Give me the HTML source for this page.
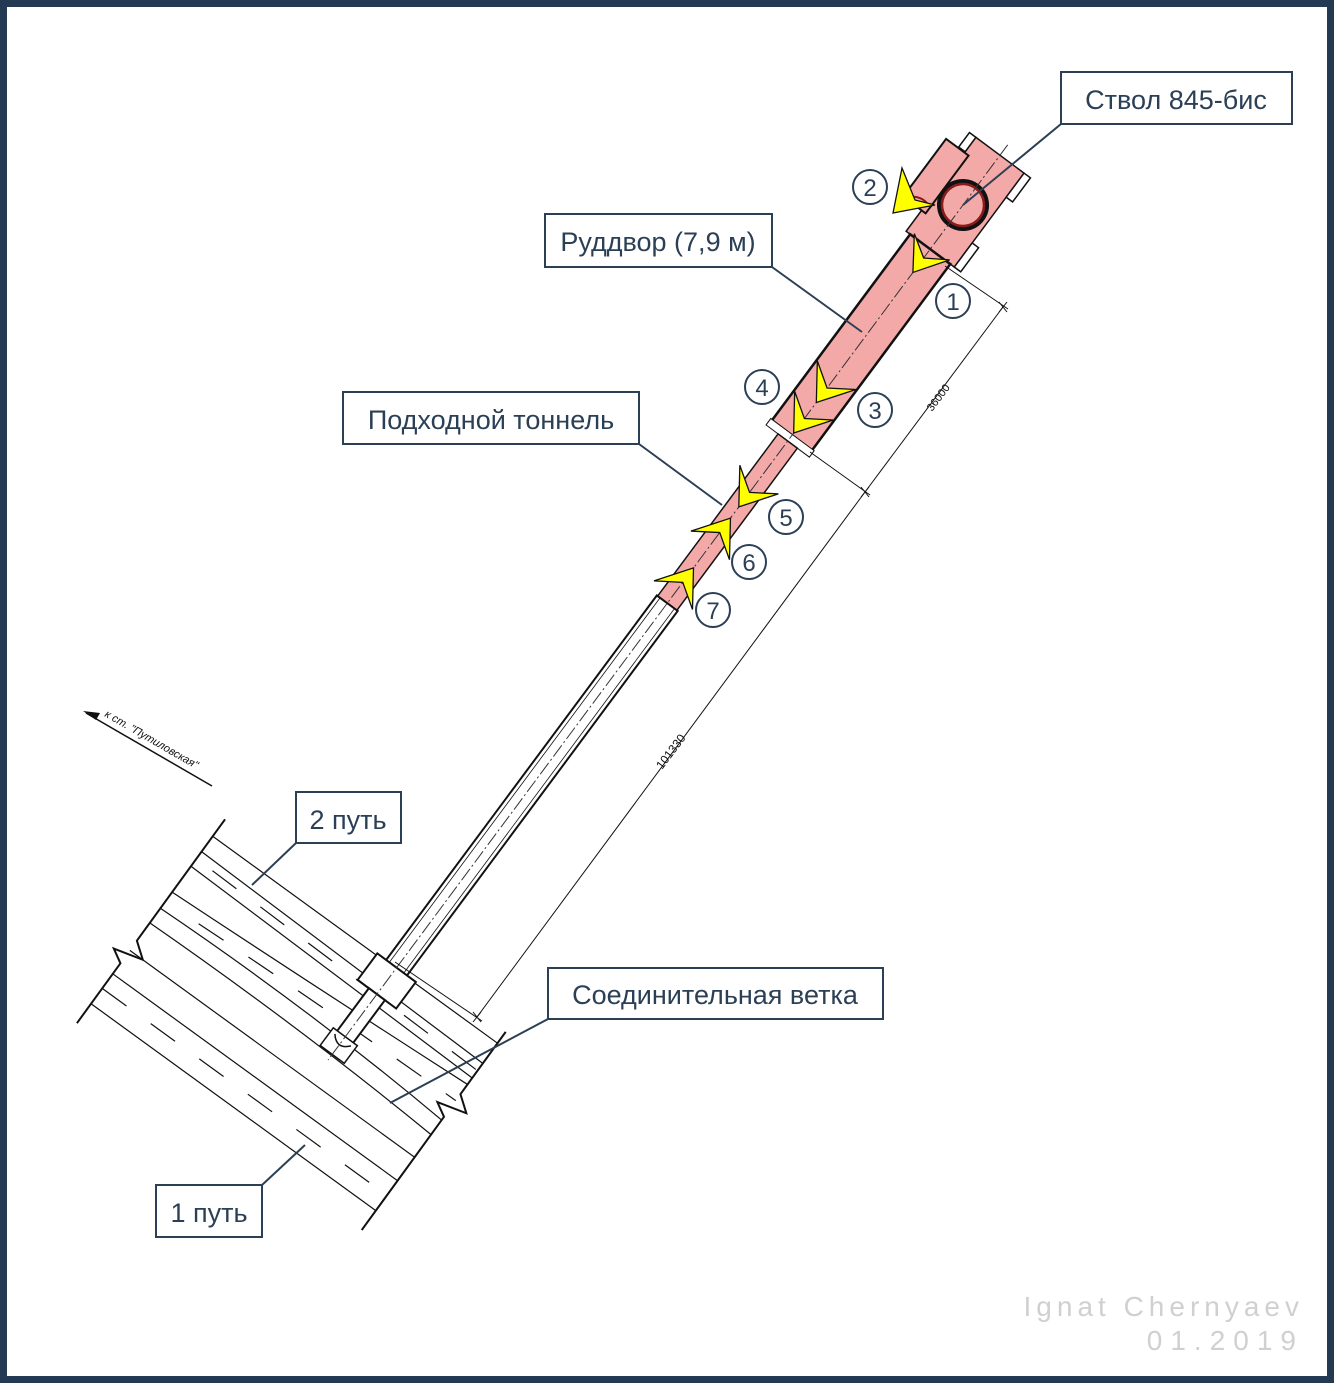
<!DOCTYPE html>
<html><head><meta charset="utf-8"><style>
html,body{margin:0;padding:0;background:#fff}
svg{display:block}
.lbl{font-family:"Liberation Sans",sans-serif;font-size:27px;fill:#2b3f55}
</style></head><body>
<svg width="1334" height="1383" viewBox="0 0 1334 1383" xmlns="http://www.w3.org/2000/svg">
<rect x="3.5" y="3.5" width="1327" height="1376" fill="#fff" stroke="#243a52" stroke-width="7"/>

<!-- tracks -->
<g transform="translate(218,829) rotate(36)" stroke="#111" stroke-width="1.2" fill="none">
 <line x1="0" y1="9" x2="352" y2="9"/>
 <line x1="0" y1="28" x2="352" y2="34"/>
 <line x1="0" y1="46" x2="352" y2="52"/>
 <line x1="20" y1="37" x2="352" y2="43" stroke-dasharray="30,30"/>
 <path d="M0 78 Q180 70 352 60"/>
 <path d="M0 98 Q180 92 352 104"/>
 <path d="M0 116 Q180 112 352 122"/>
 <path d="M40 88 Q180 82 352 80" stroke-dasharray="30,30"/>
 <line x1="0" y1="179" x2="352" y2="179"/>
 <line x1="0" y1="197" x2="352" y2="197" stroke-dasharray="30,30"/>
 <line x1="0" y1="216" x2="352" y2="216"/>
 <line x1="0" y1="150" x2="352" y2="150"/>
 <polyline stroke-width="2" points="0,-12 0,138 16,150 -14,158 0,166 0,240"/>
 <polyline stroke-width="2" points="352,-5 352,72 368,84 338,92 352,100 352,240"/>
</g>

<!-- tunnel group -->
<g transform="translate(963,205) rotate(126.6)">
 <rect x="-62" y="-30" width="117" height="60" fill="#f4a9a9" stroke="#111" stroke-width="1.5"/>
 <rect x="-43" y="25" width="72" height="28" fill="#f4a9a9" stroke="#111" stroke-width="2"/>
 <rect x="-62" y="-38" width="30" height="8" fill="#fff" stroke="#111" stroke-width="1.5"/>
 <rect x="25" y="-38" width="30" height="8" fill="#fff" stroke="#111" stroke-width="1.5"/>
 <rect x="-62" y="30" width="18" height="8" fill="#fff" stroke="#111" stroke-width="1.5"/>
 <path d="M20 30 A18 18 0 0 0 40 52" fill="none" stroke="#8b1a1a" stroke-width="2"/>
 <circle cx="0" cy="0" r="24" fill="#f4a9a9" stroke="#111" stroke-width="4"/>
 <circle cx="0" cy="0" r="21" fill="none" stroke="#8b1a1a" stroke-width="2.5"/>
 <rect x="55" y="-25" width="237" height="50" fill="#f4a9a9" stroke="#111" stroke-width="2.5"/>
 <rect x="286" y="-27" width="8" height="54" fill="#fff" stroke="#111" stroke-width="1"/>
 <rect x="294" y="-12" width="202" height="24" fill="#f4a9a9" stroke="#111" stroke-width="1.5"/>
 <rect x="496" y="-13" width="456" height="26" fill="#fff" stroke="#111" stroke-width="2"/>
 <line x1="496" y1="-9" x2="952" y2="-9" stroke="#111" stroke-width="0.8"/>
 <line x1="496" y1="9" x2="952" y2="9" stroke="#111" stroke-width="0.8"/>
 <rect x="950" y="-24" width="33" height="48" fill="#fff" stroke="#111" stroke-width="2"/>
 <rect x="983" y="-10" width="55" height="20" fill="#fff" stroke="#111" stroke-width="2"/>
 <rect x="1036" y="-15" width="22" height="30" fill="#fff" stroke="#111" stroke-width="1.5"/>
 <path d="M1040 -10 Q1052 0 1040 10" fill="none" stroke="#111" stroke-width="1.5"/>
 <line x1="-75" y1="0" x2="1065" y2="0" stroke="#333" stroke-width="1" stroke-dasharray="14,3,2,3"/>
 <g fill="#ffff00" stroke="#111" stroke-width="1.3">
  <polygon points="84,0 52,-22 66,0 52,22"/>
  <polygon points="246,0 212,-24 228,0 212,24"/>
  <polygon points="284,0 250,-24 266,0 250,24"/>
  <polygon points="376,0 342,-24 358,0 342,24"/>
  <polygon points="390,0 424,-24 408,0 424,24"/>
  <polygon points="452,0 486,-24 470,0 486,24"/>
 </g>
</g>
<polygon points="893,213 935,205 915,200 902,168" fill="#ffff00" stroke="#111" stroke-width="1.3"/>

<!-- dimensions -->
<g stroke="#111" stroke-width="1" fill="none">
 <line x1="945" y1="266" x2="1008" y2="309"/>
 <line x1="810" y1="452" x2="870" y2="495"/>
 <line x1="1003" y1="307" x2="865" y2="492"/>
 <line x1="865" y1="492" x2="477" y2="1017"/>
 <line x1="395" y1="962" x2="482" y2="1021"/>
 <path d="M999 302 l8 10 M1007 302 l-8 10 M861 487 l8 10 M869 487 l-8 10 M473 1012 l8 10 M481 1012 l-8 10"/>
</g>
<text x="0" y="0" transform="translate(932,412) rotate(-53)" font-family="Liberation Sans,sans-serif" font-size="11" fill="#111">36000</text>
<text x="0" y="0" transform="translate(662,770) rotate(-53)" font-family="Liberation Sans,sans-serif" font-size="12" fill="#111">101330</text>

<line x1="86" y1="713" x2="212" y2="786" stroke="#111" stroke-width="1.5"/>
<polygon points="83,711 100,713 96,720" fill="#111"/>
<text transform="translate(104,716) rotate(30)" font-family="Liberation Sans,sans-serif" font-style="italic" font-size="11" fill="#111">к ст.  "Путиловская"</text>

<g stroke="#2b3f55" stroke-width="2">
 <line x1="1061" y1="124" x2="963" y2="205"/>
 <line x1="772" y1="267" x2="862" y2="332"/>
 <line x1="639" y1="444" x2="722" y2="505"/>
 <line x1="296" y1="843" x2="252" y2="885"/>
 <line x1="548" y1="1019" x2="390" y2="1103"/>
 <line x1="262" y1="1185" x2="305" y2="1145"/>
</g>
<g fill="#fff" stroke="#2b3f55" stroke-width="2">
 <rect x="1061" y="72" width="231" height="52"/>
 <rect x="545" y="214" width="227" height="53"/>
 <rect x="343" y="392" width="296" height="52"/>
 <rect x="296" y="792" width="105" height="51"/>
 <rect x="548" y="968" width="335" height="51"/>
 <rect x="156" y="1185" width="106" height="52"/>
</g>
<text class="lbl" x="1176" y="109" text-anchor="middle">Ствол 845-бис</text>
<text class="lbl" x="658" y="251" text-anchor="middle">Руддвор (7,9 м)</text>
<text class="lbl" x="491" y="429" text-anchor="middle">Подходной тоннель</text>
<text class="lbl" x="348" y="829" text-anchor="middle">2 путь</text>
<text class="lbl" x="715" y="1004" text-anchor="middle">Соединительная ветка</text>
<text class="lbl" x="209" y="1222" text-anchor="middle">1 путь</text>

<g fill="#fff" stroke="#2b3f55" stroke-width="2">
 <circle cx="953" cy="301" r="17"/><circle cx="870" cy="187" r="17"/>
 <circle cx="875" cy="410" r="17"/><circle cx="762" cy="387" r="17"/>
 <circle cx="786" cy="517" r="17"/><circle cx="749" cy="562" r="17"/>
 <circle cx="713" cy="610" r="17"/>
</g>
<g font-family="Liberation Sans,sans-serif" font-size="24" fill="#2b3f55" text-anchor="middle">
 <text x="953" y="310">1</text><text x="870" y="196">2</text>
 <text x="875" y="419">3</text><text x="762" y="396">4</text>
 <text x="786" y="526">5</text><text x="749" y="571">6</text>
 <text x="713" y="619">7</text>
</g>

<g font-family="Liberation Sans,sans-serif" font-size="28" fill="#d0d0d0" text-anchor="end">
 <text x="1304" y="1316" letter-spacing="5">Ignat Chernyaev</text>
 <text x="1304" y="1350" letter-spacing="8">01.2019</text>
</g>
</svg>
</body></html>
